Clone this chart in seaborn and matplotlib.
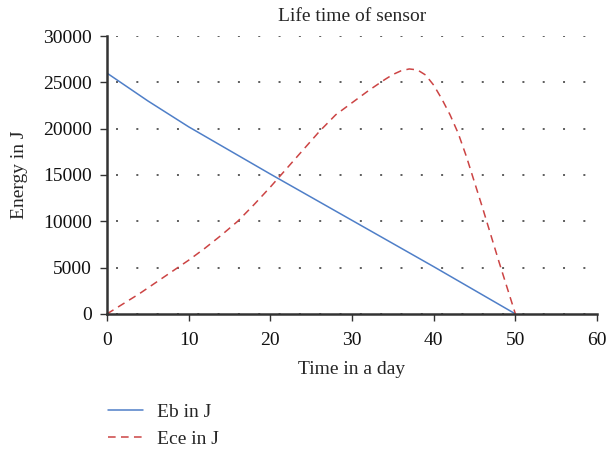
import pandas as pd
import seaborn as sns
import matplotlib.pyplot as plt

days_eb = [0, 5, 10, 20, 30, 40, 50]
eb = [26000, 23000, 20200, 15100, 10100, 5100, 0]

days_ece = [0, 2, 4, 6, 8, 10, 12, 14, 16, 18, 20, 22, 24, 26, 28, 30, 32, 34, 35,
            36, 37, 38, 39, 40, 41, 42, 43, 44, 45, 46, 47, 48, 49, 50]
ece = [0, 1100, 2200, 3400, 4600, 5800, 7100, 8500, 10000, 11800, 13700, 15700,
       17700, 19700, 21500, 22800, 24100, 25300, 25850, 26250, 26450, 26350, 25800,
       24700, 23200, 21500, 19500, 17000, 14200, 11400, 8500, 5600, 2800, 0]

sns.set_theme(style="white")
plt.rcParams['font.family'] = ['Liberation Serif', 'DejaVu Serif']

df_eb = pd.DataFrame({"day": days_eb, "energy": eb})
df_ece = pd.DataFrame({"day": days_ece, "energy": ece})

fig = plt.figure(figsize=(6.08, 4.51), dpi=100)
ax = fig.add_axes([0.176, 0.304, 0.806, 0.616])

sns.lineplot(data=df_eb, x="day", y="energy", ax=ax, color="#4f7fc8", lw=1.1, label="Eb in J")
sns.lineplot(data=df_ece, x="day", y="energy", ax=ax, color="#cc4444", lw=1.1,
             linestyle=(0, (5, 3.5)), label="Ece in J")

ax.set_xlim(0, 60)
ax.set_ylim(0, 30000)
ax.set_xticks(range(0, 61, 10))
ax.set_yticks(range(0, 30001, 5000))
ax.yaxis.grid(True, linestyle=(7.4, (1.3, 12)), color="#333333", lw=1.1)
ax.xaxis.grid(False)
for s in ["top", "right"]:
    ax.spines[s].set_visible(False)
for s in ["left", "bottom"]:
    ax.spines[s].set_color("#333333")
    ax.spines[s].set_linewidth(1.8)
ax.tick_params(axis="both", direction="out", length=5, width=1.0, color="#333333",
               labelsize=14, labelcolor="#111111", left=True, bottom=True)
ax.tick_params(axis="y", pad=6)
ax.tick_params(axis="x", pad=8)

ax.set_title("Life time of sensor", fontsize=14, pad=11)
ax.set_xlabel("Time in a day", fontsize=14, labelpad=9)
ax.set_ylabel("Energy in J", fontsize=14, labelpad=11)

ax.legend(loc="upper left", bbox_to_anchor=(0.149, 0.144), bbox_transform=fig.transFigure,
          frameon=False, fontsize=14, handlelength=1.8, handletextpad=0.7, labelspacing=0.45)

fig.savefig("out.png", dpi=100)
